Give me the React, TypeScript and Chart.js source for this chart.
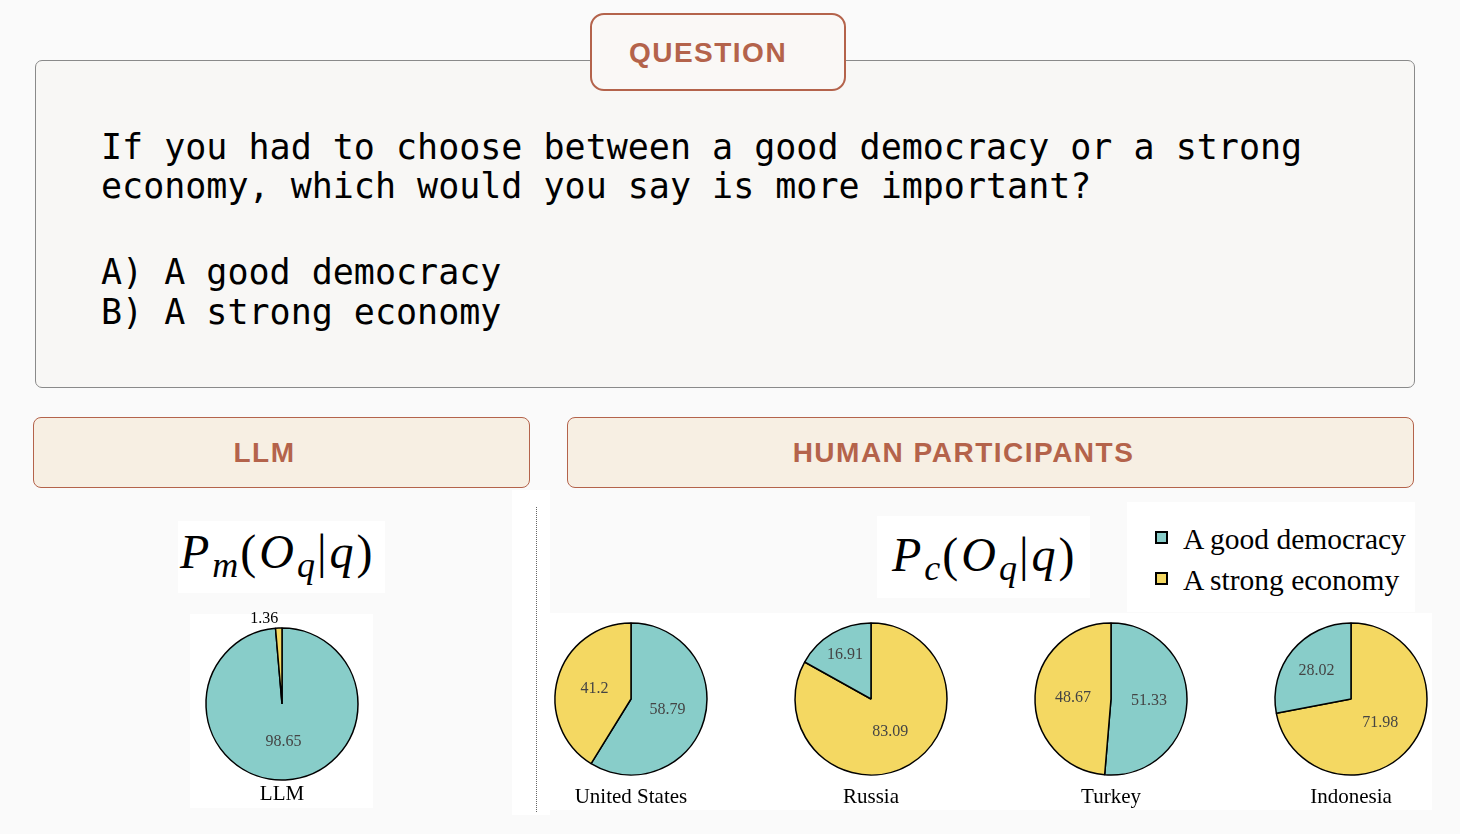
import React, { useEffect, useRef } from "react";
import { Chart, registerables } from "chart.js";

Chart.register(...registerables);

// ---------- data ----------
const optionLabels = ["A good democracy", "A strong economy"];
const optionColors = ["#88cdc9", "#f4d862"];
const countries = ["United States", "Russia", "Turkey", "Indonesia"];
const democracyPct = [58.79, 16.91, 51.33, 28.02];
const economyPct = [41.2, 83.09, 48.67, 71.98];
const llmName = "LLM";
const llmPct = [98.65, 1.36];

const questionLines = [
  "If you had to choose between a good democracy or a strong",
  "economy, which would you say is more important?",
];
const answerLines = ["A) A good democracy", "B) A strong economy"];

// ---------- styles ----------
const TERRA = "#b4634b";
const SERIF = '"Liberation Serif", "Times New Roman", serif';
const SANS = '"Liberation Sans", Arial, sans-serif';
const MONO = '"DejaVu Sans Mono", monospace';

const pctLabels = {
  id: "pctLabels",
  afterDatasetsDraw(chart: any) {
    const ctx = chart.ctx;
    const meta = chart.getDatasetMeta(0);
    const data = chart.data.datasets[0].data as number[];
    meta.data.forEach((arc: any, i: number) => {
      const p = arc.getProps(["x", "y", "startAngle", "endAngle", "outerRadius"], true);
      const mid = (p.startAngle + p.endAngle) / 2;
      const v = data[i];
      const small = v < 5;
      const f = small ? 1.12 : 0.5 + Math.max(0, 40 - v) * 0.0075;
      const d = p.outerRadius * f;
      const tx = p.x + Math.cos(mid) * d;
      const ty = p.y + Math.sin(mid) * d;
      ctx.save();
      ctx.font = `16px ${SERIF}`;
      ctx.fillStyle = small ? "#000" : "#444";
      ctx.textAlign = small ? (Math.cos(mid) < 0 ? "right" : "left") : "center";
      ctx.textBaseline = "middle";
      ctx.fillText(String(v), tx, ty);
      ctx.restore();
    });
  },
};

function Pie(props: { values: number[]; cx: number; cy: number; name: string; labelDy: number }) {
  const ref = useRef<HTMLCanvasElement>(null);
  const { values, cx, cy, name, labelDy } = props;
  useEffect(() => {
    const order = values.map((_, i) => i).sort((a, b) => values[b] - values[a]);
    const chart = new Chart(ref.current!, {
      type: "pie",
      data: {
        labels: order.map((i) => optionLabels[i]),
        datasets: [
          {
            data: order.map((i) => values[i]),
            backgroundColor: order.map((i) => optionColors[i]),
            borderColor: "#000",
            borderWidth: 1.5,
            radius: 76,
          } as any,
        ],
      },
      options: {
        responsive: false,
        animation: false,
        layout: { padding: 0 },
        plugins: { legend: { display: false }, tooltip: { enabled: false } },
      },
      plugins: [pctLabels],
    });
    return () => chart.destroy();
  }, []);
  const S = 200;
  return (
    <>
      <canvas
        ref={ref}
        width={S}
        height={S}
        style={{ position: "absolute", left: cx - S / 2, top: cy - S / 2, width: S, height: S }}
      />
      <div
        style={{
          position: "absolute",
          left: cx - 100,
          width: 200,
          top: cy + labelDy - 12,
          textAlign: "center",
          font: `21px ${SERIF}`,
          color: "#000",
          lineHeight: "24px",
        }}
      >
        {name}
      </div>
    </>
  );
}

function Formula(props: { sub: string; left: number; top: number }) {
  const subStyle = { fontSize: 36, fontStyle: "italic", verticalAlign: "-9px", letterSpacing: "2px" };
  return (
    <div
      style={{
        position: "absolute",
        left: props.left,
        top: props.top,
        font: `48px ${SERIF}`,
        color: "#000",
        whiteSpace: "nowrap",
        lineHeight: "60px",
        letterSpacing: "3px",
      }}
    >
      <i>P</i>
      <sub style={subStyle as any}>{props.sub}</sub>(<i>O</i>
      <sub style={subStyle as any}>q</sub>|<i>q</i>)
    </div>
  );
}

const box = (l: number, t: number, w: number, h: number, extra: any = {}) => ({
  position: "absolute" as const,
  left: l,
  top: t,
  width: w,
  height: h,
  boxSizing: "border-box" as const,
  ...extra,
});

const headerText = {
  display: "flex",
  alignItems: "center",
  justifyContent: "center",
  font: `bold 28px ${SANS}`,
  letterSpacing: "1.5px",
  color: TERRA,
};

export default function App() {
  const humanCx = [631, 871, 1111, 1351];
  return (
    <div
      style={{
        position: "absolute",
        left: 0,
        top: 0,
        width: 1460,
        height: 834,
        background: "#fafafa",
        overflow: "hidden",
      }}
    >
      {/* question box */}
      <div style={box(35, 60, 1380, 328, { border: "1.5px solid #8a8a8a", borderRadius: 7, background: "#f8f7f5" })} />
      {questionLines.map((s, i) => (
        <div
          key={s}
          style={{
            position: "absolute",
            left: 101,
            top: 127 + i * 39,
            font: `35px ${MONO}`,
            lineHeight: "40px",
            whiteSpace: "pre",
            color: "#000",
          }}
        >
          {s}
        </div>
      ))}
      {answerLines.map((s, i) => (
        <div
          key={s}
          style={{
            position: "absolute",
            left: 101,
            top: 252 + i * 40,
            font: `35px ${MONO}`,
            lineHeight: "40px",
            whiteSpace: "pre",
            color: "#000",
          }}
        >
          {s}
        </div>
      ))}
      <div
        style={box(590, 13, 256, 78, {
          border: `2px solid ${TERRA}`,
          borderRadius: 14,
          background: "#faf8f6",
          ...headerText,
          paddingRight: 20,
          paddingTop: 2,
        })}
      >
        QUESTION
      </div>

      {/* section headers */}
      <div
        style={box(33, 417, 497, 71, {
          border: `1.5px solid ${TERRA}`,
          borderRadius: 8,
          background: "#f7efe3",
          ...headerText,
          paddingRight: 34,
        })}
      >
        LLM
      </div>
      <div
        style={box(567, 417, 847, 71, {
          border: `1.5px solid ${TERRA}`,
          borderRadius: 8,
          background: "#f7efe3",
          ...headerText,
          paddingRight: 54,
        })}
      >
        HUMAN PARTICIPANTS
      </div>

      {/* white panels */}
      <div style={box(512, 490, 38, 325, { background: "#fff" })} />
      <div style={box(550, 613, 882, 197, { background: "#fff" })} />
      <div style={box(190, 614, 183, 194, { background: "#fff" })} />
      <div style={box(178, 521, 207, 72, { background: "#fff" })} />
      <div style={box(877, 516, 213, 82, { background: "#fff" })} />
      <div style={box(1127, 502, 288, 110, { background: "#fff" })} />

      {/* divider */}
      <div style={box(536, 507, 2, 305, { borderLeft: "1.5px dotted #666" })} />

      <Formula sub="m" left={180} top={522} />
      <Formula sub="c" left={892} top={525} />

      {/* legend */}
      {optionLabels.map((s, i) => (
        <div key={s}>
          <div
            style={box(1155, 531 + i * 41, 13, 13, {
              border: "2px solid #000",
              background: optionColors[i],
            })}
          />
          <div
            style={{
              position: "absolute",
              left: 1183,
              top: 522 + i * 41,
              font: `29.5px ${SERIF}`,
              lineHeight: "34px",
              color: "#000",
              whiteSpace: "nowrap",
            }}
          >
            {s}
          </div>
        </div>
      ))}

      <Pie values={llmPct} cx={282} cy={704} name={llmName} labelDy={89} />
      {countries.map((c, i) => (
        <Pie
          key={c}
          values={[democracyPct[i], economyPct[i]]}
          cx={humanCx[i]}
          cy={699}
          name={c}
          labelDy={97}
        />
      ))}
    </div>
  );
}
